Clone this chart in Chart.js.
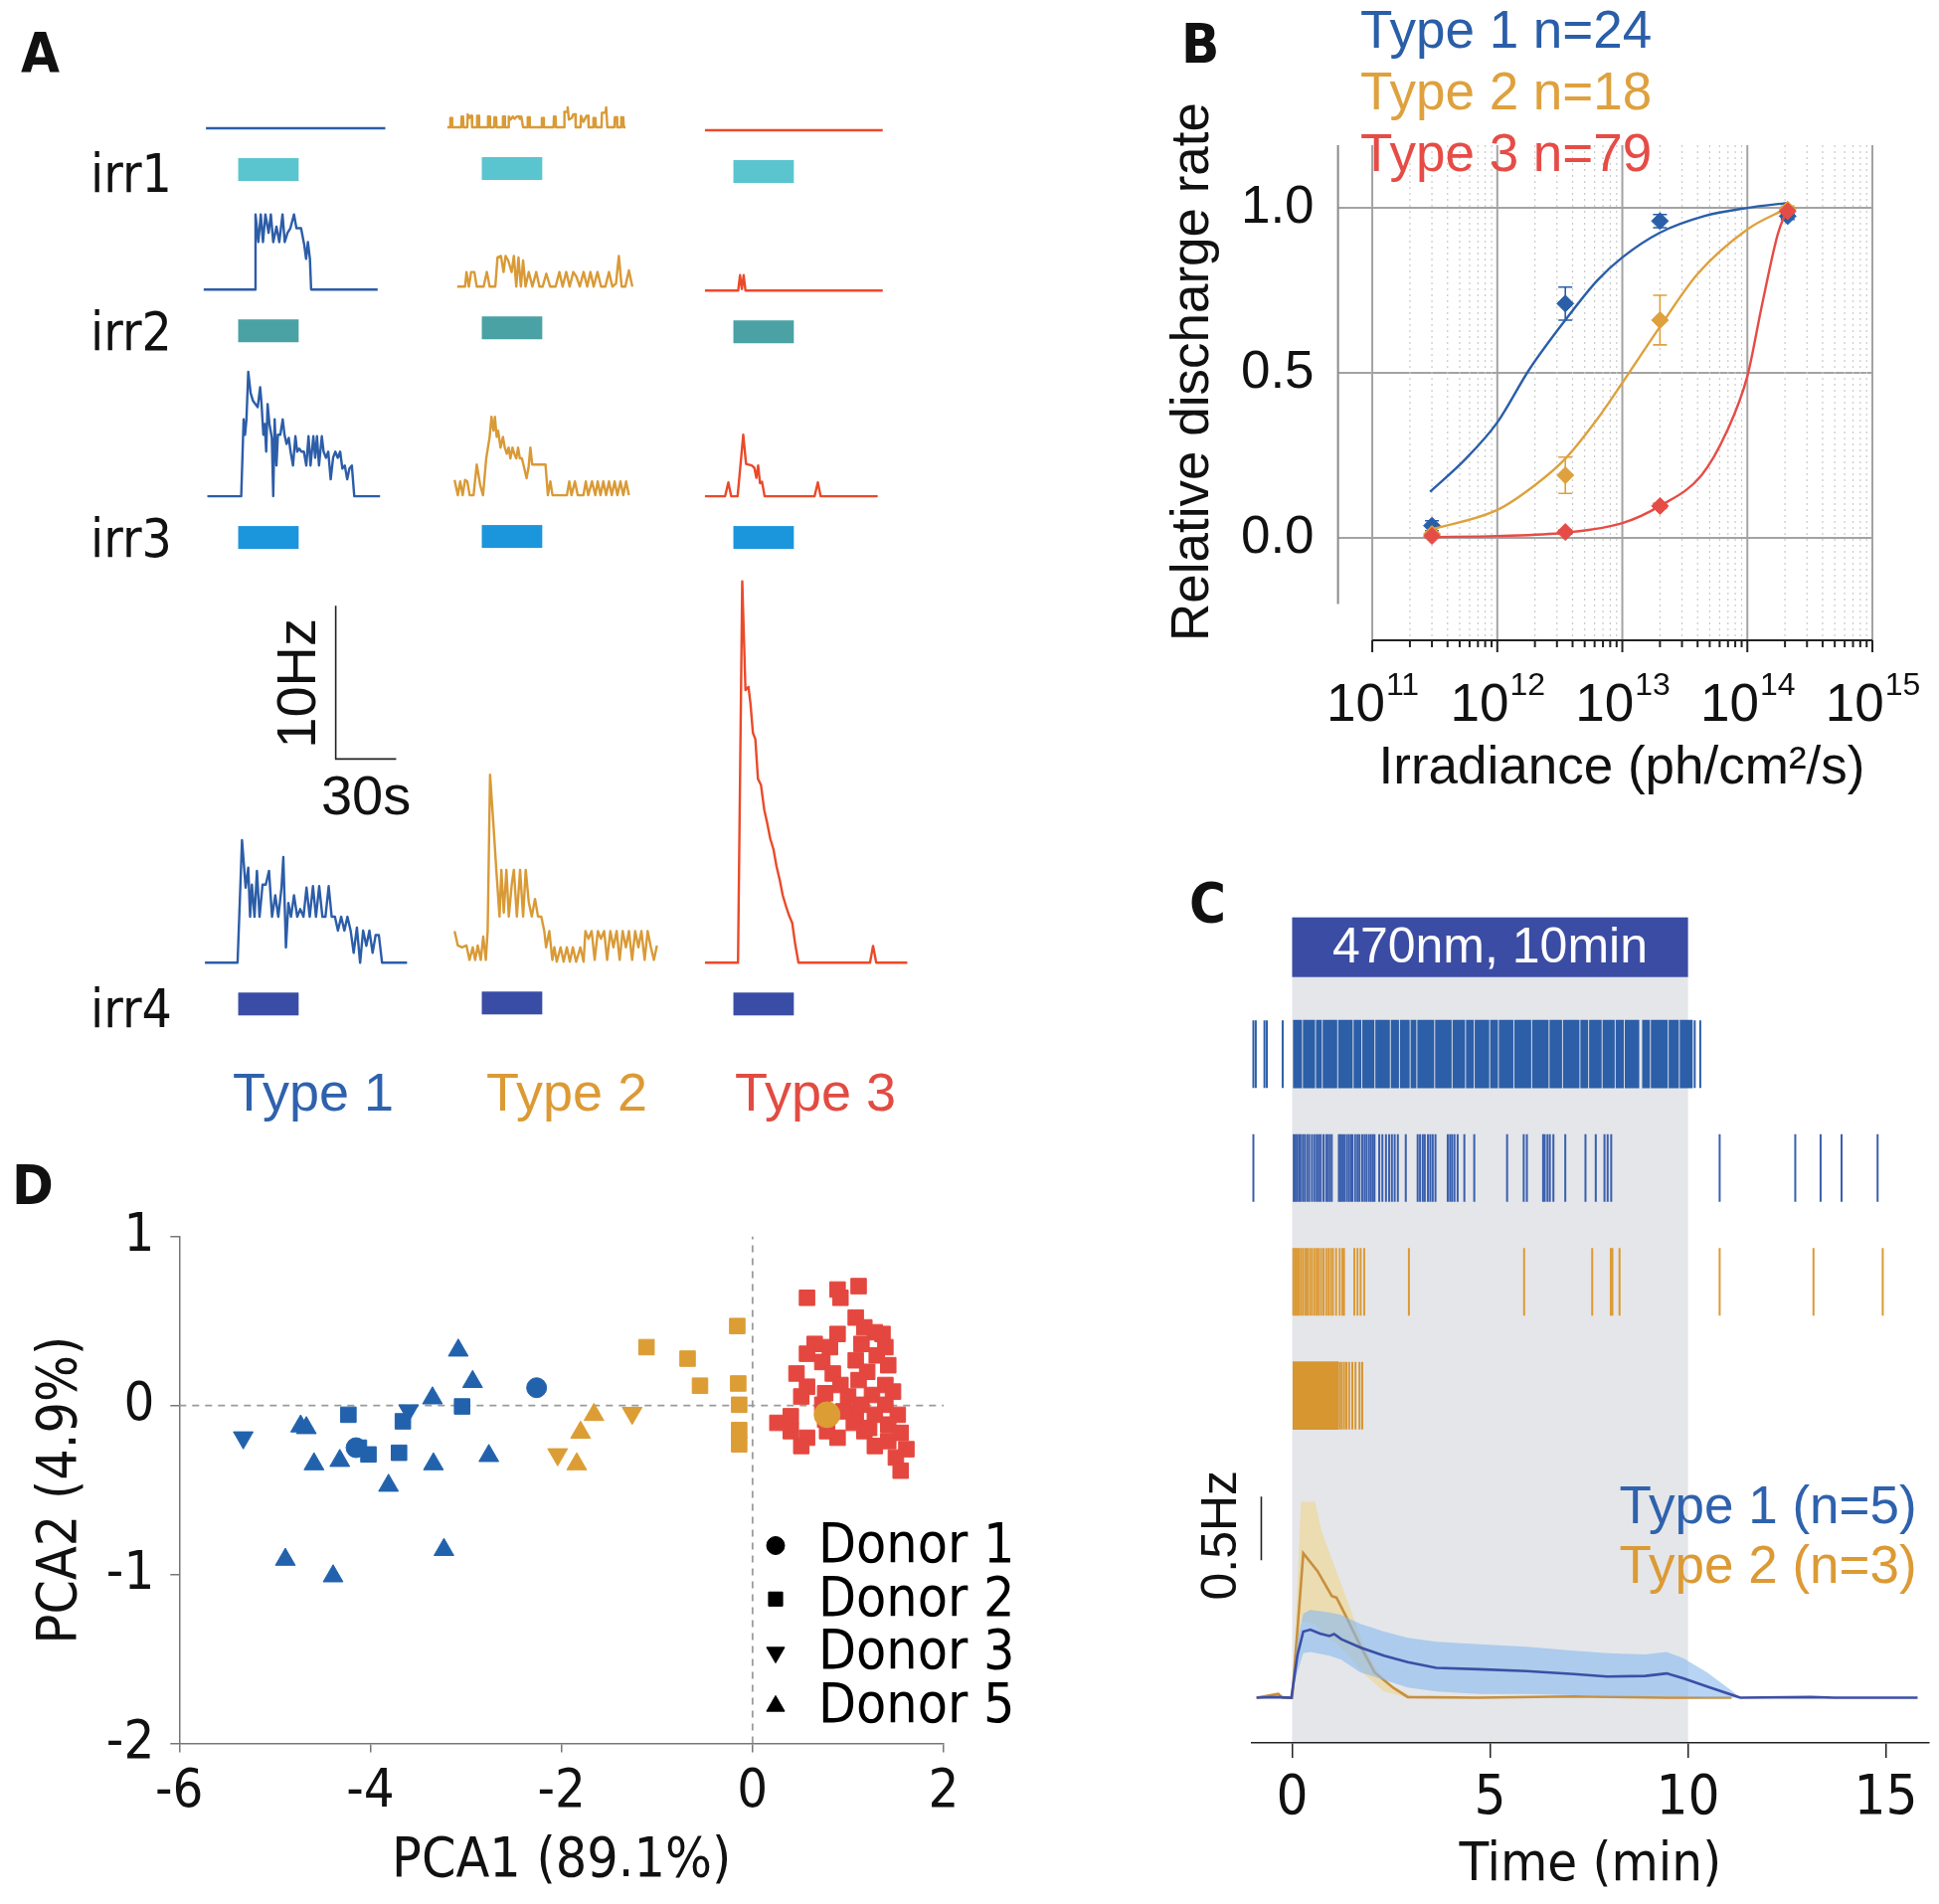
<!DOCTYPE html>
<html>
<head>
<meta charset="utf-8">
<title>Figure</title>
<script src="https://cdn.jsdelivr.net/npm/chart.js@4.4.1/dist/chart.umd.min.js"></script>
<style>
  body { margin: 0; background: #fff; }
  #fig { position: relative; width: 1950px; height: 1915px; overflow: hidden; background: #fff; }
  #fig canvas { position: absolute; }
  .txt { position: absolute; white-space: nowrap; line-height: 1; }
</style>
</head>
<body>
<div id="fig"></div>
<script>
// ---------- Panel A: firing rate traces [time (s) from light onset, rate (Hz)] ----------
const irr1Type1 = [[-16,0],[73,0]];
const irr1Type2 = [[-17.1,0],[-15.8,0],[-15.6,0.6],[-14.9,0.6],[-14.7,0],[-10.2,0],[-10.0,0.7],[-9.3,0.7],[-9.1,0],[-7.2,0],[-7.0,0.85],[-6.3,0.6],[-5.6,0.75],[-5.0,0.75],[-4.8,0],[-2.5,0],[-2.3,0.75],[-1.5,0.75],[-1.3,0],[2.9,0],[3.1,0.7],[3.9,0.7],[4.1,0],[6.1,0],[6.3,0.65],[7.1,0.65],[7.3,0],[10.3,0],[10.5,0.7],[11.3,0.7],[11.5,0],[13.2,0],[13.4,0.7],[14.3,0.5],[15.4,0.7],[16.3,0.55],[17.3,0.7],[18.6,0.7],[18.8,0.55],[19.6,0.7],[20.5,0],[22.6,0],[22.8,0.65],[23.6,0.65],[23.8,0],[29.6,0],[29.8,0.6],[30.6,0.6],[30.8,0],[35.6,0],[35.8,0.7],[36.6,0.7],[36.8,0],[40.8,0],[41.0,1.0],[42.3,1.0],[42.6,1.3],[43.2,0.5],[44.6,0.6],[45.4,0.85],[46.4,0.85],[46.6,0],[49.0,0],[49.2,0.75],[50.4,0.35],[52.0,0.75],[52.8,0.75],[53.0,0],[55.2,0],[55.4,0.6],[56.4,0.6],[56.6,0],[59.4,0],[59.6,0.95],[61.4,0.95],[61.7,1.3],[62.3,0],[65.8,0],[66.0,0.65],[67.0,0.65],[67.2,0],[69.0,0],[69.2,0.65],[70.2,0.65],[70.4,0],[71.3,0]];
const irr1Type3 = [[-14.1,0],[74.1,0]];
const irr2Type1 = [[-17.1,0],[8.3,0],[8.6,4.9],[10,3.1],[11.2,4.9],[12.3,3.1],[13.5,4.9],[15.1,3.7],[16.2,4.9],[17.4,3.1],[19,4.1],[20.4,3.1],[22,4.9],[23.1,3.1],[24.5,3.7],[25.9,4.0],[27.7,4.9],[28.9,4.0],[31.2,4.0],[32.8,2.9],[33.7,2.0],[34.6,3.1],[35.6,2.0],[36.2,0],[69.2,0]];
const irr2Type2 = [[-12.2,0],[-8.3,0],[-7.6,0.95],[-6.4,0],[-5.3,0.95],[-3.7,0.95],[-2.5,0],[0.9,0],[2.5,0.95],[3.9,0],[6.7,0],[7.8,1.9],[9.5,2.0],[10.8,0.95],[11.8,2.0],[13.1,1.7],[14.8,0.95],[15.9,2.0],[17.1,0],[18.2,1.9],[19.4,0],[20.5,1.7],[21.7,0],[23.3,0.95],[25.1,0],[27.0,0.95],[28.6,0],[30.2,0],[32.0,0.84],[33.9,0],[36.6,0],[38.5,0.95],[40.1,0],[41.9,0.95],[43.6,0],[45.4,0.95],[47.0,0.63],[48.6,0],[50.5,0.95],[52.3,0],[53.9,0.95],[55.5,0],[57.4,0.95],[59.2,0],[61.3,0],[63.1,0.95],[64.8,0],[66.6,0.2],[68.0,2.0],[69.4,0],[71.2,0],[73.0,1.05],[74.7,0]];
const irr2Type3 = [[-14.1,0],[2.4,0],[3.3,1.0],[4.2,0.1],[5.1,1.0],[6.0,0],[74.1,0]];
const irr3Type1 = [[-15.3,0],[1.5,0],[2.7,5.0],[3.4,4.0],[4.1,5.0],[5.0,8.1],[6.2,6.7],[7.4,6.2],[8.5,6.0],[9.7,5.8],[10.9,7.1],[11.6,6.0],[12.5,4.0],[13.2,4.7],[13.9,2.9],[14.6,6.0],[15.5,4.7],[16.7,3.8],[17.4,0],[18.1,5.0],[19.0,2.0],[19.7,4.0],[20.9,4.0],[22.1,5.0],[23.0,4.0],[24.0,3.4],[25.1,3.8],[26.0,2.9],[27.2,2.0],[28.4,3.9],[29.3,2.9],[30.3,3.1],[31.4,2.9],[32.6,2.9],[33.8,2.0],[34.9,3.9],[35.9,2.0],[37.3,3.9],[38.2,2.5],[39.1,3.9],[40.1,2.0],[41.5,3.9],[42.4,2.9],[43.6,2.5],[44.7,2.9],[45.9,1.1],[47.1,2.5],[48.2,2.9],[49.4,2.5],[50.6,2.9],[51.7,1.8],[52.9,2.0],[54.1,1.1],[55.2,1.8],[56.4,2.0],[57.6,0],[70.4,0]];
const irr3Type2 = [[-13.5,1.0],[-11.9,0],[-10.7,0.9],[-9.5,0],[-8.3,1.0],[-7.2,0.9],[-6.0,0],[-4.1,0],[-2.5,2.0],[-0.8,0.67],[0.6,0],[2.2,2.4],[3.9,3.8],[4.8,5.1],[5.8,4.2],[6.5,5.1],[7.4,3.8],[8.1,4.2],[9.3,3.1],[10.5,3.8],[11.4,3.1],[12.4,2.7],[13.3,3.1],[14.2,2.4],[15.2,3.1],[16.1,2.7],[17.1,2.4],[18.0,3.1],[18.9,2.4],[19.9,2.4],[21.0,1.8],[22.2,1.1],[23.2,1.8],[24.1,3.1],[25.0,2.0],[31.6,2.0],[32.8,0],[34.0,0.9],[35.1,0],[42.2,0],[43.4,0.9],[44.5,0],[46.2,0.9],[47.6,0],[50.4,0],[51.6,0.9],[52.8,0],[54.7,0.9],[56.3,0],[57.5,0.9],[58.9,0],[60.3,0.9],[61.7,0],[63.1,0.9],[64.5,0],[65.9,0.9],[67.3,0],[68.8,0.9],[70.2,0],[71.6,0.9],[73.0,0]];
const irr3Type3 = [[-14.1,0],[-4.1,0],[-2.5,0.9],[-1.1,0],[2.1,0],[4.9,4.0],[6.3,2.1],[9.1,2.0],[10.4,1.85],[11.4,1.2],[12.3,2.0],[13.2,0.85],[14.2,0.95],[15.5,0],[40.3,0],[41.9,0.9],[43.3,0],[71.6,0]];
const irr4Type1 = [[-16.5,0],[-0.3,0],[1.9,8.0],[3.7,4.9],[5.0,6.2],[5.9,3.0],[6.8,5.1],[8.1,3.0],[9.3,6.0],[10.6,3.0],[12.1,5.1],[13.7,5.1],[15.3,6.0],[16.8,3.0],[18.4,4.4],[19.9,3.0],[21.5,4.9],[22.4,6.9],[23.7,1.0],[24.9,3.9],[26.2,3.0],[27.7,4.4],[29.3,3.0],[30.8,3.5],[32.4,3.0],[33.9,4.9],[35.5,3.0],[37.1,5.0],[38.6,3.0],[40.2,5.0],[41.8,3.0],[43.3,3.0],[44.9,5.0],[46.4,3.0],[48.0,3.0],[49.5,2.1],[51.1,3.0],[52.7,2.1],[54.2,3.0],[55.8,2.1],[57.3,0.65],[58.9,2.3],[60.5,0],[62.0,2.1],[63.6,1.1],[65.1,2.1],[66.7,0.65],[68.2,1.8],[69.8,1.8],[71.4,0],[83.8,0]];
const irr4Type2 = [[-13.5,2.0],[-11.9,1.06],[-9.8,0.94],[-7.6,1.06],[-6.1,0.12],[-4.5,0.94],[-3.3,0.12],[-2.0,1.06],[-0.5,0.12],[0.7,1.65],[2.0,0.12],[2.9,2.0],[4.1,12.2],[5.7,9.1],[7.2,6.0],[8.8,2.95],[9.7,6.0],[10.9,3.2],[12.2,6.0],[13.4,2.95],[14.9,5.1],[15.9,6.0],[17.4,2.95],[19.0,6.0],[20.5,2.95],[21.8,6.0],[23.3,3.9],[24.8,2.95],[26.4,4.1],[27.9,2.95],[29.5,2.95],[31.0,2.0],[31.9,0.94],[33.5,2.0],[35.0,0.12],[36.0,0.94],[37.2,0],[39.1,0.94],[40.6,0],[42.2,0.94],[43.7,0],[45.2,0.94],[46.8,0],[48.9,0.94],[50.5,0],[51.4,2.0],[52.9,1.5],[54.5,2.0],[56.0,0.12],[57.6,2.0],[59.1,1.5],[60.7,2.0],[62.2,0.12],[63.8,2.0],[65.3,0.94],[66.9,2.0],[68.4,0.12],[69.9,2.0],[71.5,0.94],[73.0,2.0],[74.6,0.12],[76.1,2.0],[77.7,0.94],[79.2,2.0],[80.8,0.12],[82.3,2.0],[83.9,0.94],[85.4,0.12],[86.9,1.06]];
const irr4Type3 = [[-14.1,0],[2.3,0],[4.4,24.9],[6.0,17.8],[7.5,18.0],[8.5,16.9],[9.7,15.0],[10.9,14.6],[12.2,12.0],[13.7,11.6],[15.3,10.0],[16.8,9.1],[18.3,8.1],[19.9,7.4],[21.4,6.3],[23.0,5.4],[24.5,4.4],[26.1,3.7],[27.6,3.1],[29.2,2.6],[30.7,1.2],[32.3,0],[67.8,0],[69.3,1.1],[70.9,0],[86.3,0]];
const stimOn = 0, stimOff = 30;          // s
const irrLabels = ['irr1', 'irr2', 'irr3', 'irr4'];
const typeLabels = ['Type 1', 'Type 2', 'Type 3'];

// ---------- Panel B: relative discharge rate vs irradiance ----------
const irradiance = [3e11, 3.5e12, 2e13, 2.1e14];
const type1Rate = [0.037, 0.71, 0.96, 0.975];
const type1Err  = [0.015, 0.05, 0.02, 0.01];
const type2Rate = [0.012, 0.19, 0.66, 0.995];
const type2Err  = [0.008, 0.055, 0.075, 0.01];
const type3Rate = [0.006, 0.018, 0.097, 0.99];
const type3Err  = [0.004, 0.006, 0.008, 0.01];
const type1Fit = [[2.9e11,0.14],[5.6e11,0.24],[1e12,0.35],[1.8e12,0.51],[3.5e12,0.66],[6.3e12,0.78],[1e13,0.85],[2e13,0.925],[4.5e13,0.975],[1e14,1.0],[2.1e14,1.015]];
const type2Fit = [[2.9e11,0.025],[1e12,0.085],[2e12,0.16],[3.5e12,0.24],[6.3e12,0.36],[1e13,0.47],[2e13,0.64],[4e13,0.80],[1e14,0.935],[2.1e14,1.0]];
const type3Fit = [[2.9e11,0.003],[1e12,0.006],[3.5e12,0.016],[1e13,0.045],[2e13,0.097],[4.3e13,0.19],[6.8e13,0.32],[1e14,0.49],[1.3e14,0.70],[1.75e14,0.92],[2.1e14,1.0]];
const nCells = [24, 18, 79];

// ---------- Panel C: raster (min) and mean rate (Hz) ----------
const row1Bursts = [[0.03,0.24],[0.28,0.57],[0.61,0.74],[0.78,1.13],[1.17,1.52],[1.56,1.74],[1.78,2.07],[2.11,2.46],[2.50,2.69],[2.73,2.96],[3.00,3.13],[3.17,3.58],[3.62,4.02],[4.06,4.36],[4.40,4.58],[4.62,4.97],[5.01,5.19],[5.23,5.58],[5.62,6.03],[6.07,6.47],[6.51,6.81],[6.85,7.25],[7.29,7.47],[7.51,7.81],[7.85,8.14],[8.18,8.37],[8.41,8.76],[8.85,9.03],[9.07,9.48],[9.52,9.76],[9.80,10.11]];
const row1Spikes = [-0.98,-0.92,-0.70,-0.64,-0.24,10.17,10.31];
const row2Spikes = [-0.98,0.04,0.08,0.12,0.17,0.21,0.27,0.32,0.38,0.43,0.50,0.56,0.62,0.67,0.72,0.79,0.86,0.90,0.95,1.00,1.18,1.22,1.27,1.32,1.38,1.43,1.48,1.52,1.59,1.65,1.70,1.77,1.83,1.88,1.94,1.99,2.04,2.08,2.20,2.28,2.37,2.45,2.52,2.59,2.67,2.87,3.17,3.23,3.30,3.35,3.43,3.49,3.55,3.62,3.93,3.99,4.04,4.10,4.18,4.35,4.60,5.43,5.85,5.93,6.34,6.38,6.45,6.51,6.60,6.90,7.41,7.67,7.89,7.97,8.06,10.80,12.71,13.35,13.88,14.79];
const row3Spikes = [0.03,0.07,0.10,0.14,0.18,0.23,0.28,0.34,0.39,0.45,0.50,0.56,0.62,0.67,0.73,0.79,0.86,0.92,0.98,1.03,1.11,1.20,1.27,1.31,1.57,1.65,1.73,1.82,2.95,5.86,7.58,8.05,8.09,8.27,10.80,13.17,14.92];
const row4Bursts = [[0.02,1.16]];
const row4Spikes = [1.20,1.25,1.31,1.37,1.44,1.52,1.60,1.70,1.77];
const lightOn = 0, lightOff = 10;        // min
const type1Mean = [[-0.9,0],[-0.4,0.005],[-0.02,0],[0.13,0.33],[0.28,0.52],[0.46,0.535],[0.70,0.505],[0.94,0.485],[1.06,0.50],[1.24,0.46],[1.72,0.395],[2.32,0.33],[2.92,0.28],[3.64,0.235],[4.72,0.224],[5.92,0.209],[7.12,0.186],[7.96,0.166],[8.92,0.171],[9.46,0.191],[9.88,0.153],[10.48,0.089],[11.08,0.026],[11.32,0],[13.1,0.005],[13.7,0],[15.8,0]];
const type1Band = [[-0.9,0,0],[-0.02,0,0],[0.13,0.2,0.45],[0.28,0.35,0.66],[0.46,0.36,0.69],[0.94,0.33,0.67],[1.24,0.30,0.65],[1.72,0.20,0.58],[2.32,0.14,0.52],[2.92,0.08,0.47],[3.64,0.05,0.44],[4.72,0.03,0.42],[5.92,0.03,0.40],[7.12,0.02,0.37],[7.96,0.01,0.35],[8.92,0.01,0.34],[9.46,0.01,0.36],[9.88,0.01,0.31],[10.48,0,0.2],[11.08,0,0.06],[11.32,0,0]];
const type2Mean = [[-0.9,0],[-0.35,0.03],[-0.25,0],[0.0,0],[0.15,0.6],[0.28,1.135],[0.64,0.995],[1.0,0.80],[1.12,0.786],[1.36,0.64],[1.72,0.41],[2.08,0.20],[2.56,0.077],[2.92,0.005],[4.7,0],[7.1,0.01],[9.5,0],[11.1,0]];
const type2Band = [[0.0,0,0],[0.15,0.35,1.0],[0.22,0.6,1.54],[0.58,0.58,1.54],[0.75,0.5,1.3],[1.12,0.43,0.99],[1.48,0.31,0.69],[1.84,0.18,0.38],[2.32,0.05,0.13],[2.92,0,0.03],[3.2,0,0]];
const cLegend = ['Type 1 (n=5)', 'Type 2 (n=3)'];

// ---------- Panel D: PCA scores [PCA1, PCA2] ----------
const type1Donor1 = [[-2.26,0.105],[-4.15,-0.25]];
const type1Donor2 = [[-4.23,-0.055],[-4.02,-0.29],[-3.70,-0.28],[-3.66,-0.094],[-3.04,-0.006],[-4.12,-0.25]];
const type1Donor3 = [[-5.33,-0.19],[-3.60,-0.03]];
const type1Donor5 = [[-3.08,0.326],[-2.93,0.14],[-3.35,0.043],[-4.73,-0.123],[-4.67,-0.133],[-4.59,-0.347],[-4.32,-0.327],[-3.81,-0.474],[-3.34,-0.347],[-2.76,-0.298],[-4.89,-0.912],[-4.39,-1.01],[-3.23,-0.854]];
const type2Donor1 = [[0.78,-0.055]];
const type2Donor2 = [[-0.16,0.47],[-1.11,0.345],[-0.68,0.277],[-0.55,0.117],[-0.15,0.13],[-0.14,0.004],[-0.14,-0.146],[-0.14,-0.23]];
const type2Donor3 = [[-1.26,-0.045],[-2.04,-0.29]];
const type2Donor5 = [[-1.66,-0.055],[-1.80,-0.16],[-1.84,-0.347]];
const type3Donor2 = [[0.57,0.637],[0.89,0.686],[1.11,0.706],[0.92,0.637],[1.08,0.52],[1.17,0.462],[1.36,0.423],[1.28,0.433],[0.65,0.364],[0.89,0.423],[0.81,0.345],[1.14,0.364],[1.39,0.345],[0.57,0.306],[0.73,0.257],[1.08,0.267],[1.30,0.296],[1.42,0.238],[0.46,0.189],[0.84,0.189],[1.20,0.199],[0.57,0.111],[0.92,0.121],[1.11,0.150],[1.39,0.121],[0.51,0.053],[1.00,0.053],[1.25,0.062],[1.47,0.082],[0.73,0.004],[1.14,0.004],[1.39,0.004],[1.08,-0.045],[1.28,-0.055],[1.52,-0.055],[0.26,-0.103],[0.40,-0.152],[0.57,-0.191],[0.51,-0.240],[0.89,-0.191],[1.06,-0.103],[1.22,-0.133],[1.42,-0.113],[1.55,-0.162],[1.28,-0.240],[1.61,-0.259],[1.50,-0.308],[1.55,-0.386],[0.76,-0.084],[0.95,-0.035],[0.78,-0.152],[1.17,-0.152],[0.40,-0.064],[0.76,0.072],[1.42,-0.211]];
const donorLabels = ['Donor 1', 'Donor 2', 'Donor 3', 'Donor 5'];

// ---------- styles ----------
const NARROW = "'Liberation Sans Narrow', 'Arial Narrow', 'DejaVu Sans Condensed', sans-serif";
const ARIAL = "'Liberation Sans', Arial, Helvetica, sans-serif";
const typeColors = ['#2c5da8', '#d99a36', '#ea4a2a'];
const typeTextColors = ['#2f62ad', '#dc9a35', '#e24b42'];
const bColors = ['#2a5ea8', '#dea13e', '#e64c46'];
const irrColors = ['#5bc5cf', '#4aa2a4', '#1b96dc', '#3a4da6'];

Chart.defaults.animation = false;
Chart.defaults.responsive = false;
Chart.defaults.events = [];
Chart.defaults.layout.autoPadding = false;
Chart.defaults.plugins.legend.display = false;
Chart.defaults.plugins.tooltip.enabled = false;

const fig = document.getElementById('fig');
const pairs = arr => arr.map(p => ({x: p[0], y: p[1]}));
const fixedTicks = vals => scale => { scale.ticks = vals.map(v => ({value: v})); };

function makeCanvas(left, top, w, h) {
  const c = document.createElement('canvas');
  c.width = Math.round(w);
  c.height = Math.round(h);
  c.style.left = left + 'px';
  c.style.top = top + 'px';
  fig.appendChild(c);
  return c;
}

function addText(str, x, cy, size, family, color, opt) {
  opt = opt || {};
  const d = document.createElement('div');
  d.className = 'txt';
  d.textContent = str;
  d.style.fontSize = size + 'px';
  d.style.fontFamily = family;
  d.style.color = color;
  if (opt.bold) d.style.fontWeight = 'bold';
  d.style.top = (cy - 0.49 * size) + 'px';
  d.style.left = x + 'px';
  if (opt.center) d.style.transform = 'translateX(-50%)';
  fig.appendChild(d);
}

// ================= Panel A =================
const PX_PER_S = 2.031, PX_PER_HZ = 15.42;
const colOnsetX = [240, 485, 737.5];
const rowBaseY = [[129.3,128.1,130.6],[291,288.5,292.2],[498.7,497.4,498.7],[968.8,967.5,968.8]];
const rowTopHz = [2.2, 6.5, 9, 26.5];
const T_MIN = -20, T_MAX = 92, HZ_MIN = -4.2;

const stimBar = {
  id: 'stimBar',
  afterDatasetsDraw(chart, args, opts) {
    const {ctx, scales: {x, y}} = chart;
    const xa = x.getPixelForValue(stimOn), xb = x.getPixelForValue(stimOff);
    const yb = y.getPixelForValue(0) + 30;
    ctx.save();
    ctx.fillStyle = opts.color;
    ctx.fillRect(xa, yb, xb - xa, 23);
    ctx.restore();
  }
};

// 10 Hz / 30 s scale bar
const scaleBarA = {
  id: 'scaleBarA',
  afterDatasetsDraw(chart, args, o) {
    const {ctx, scales: {x, y}} = chart;
    const cx = x.getPixelForValue(o.t), cy = y.getPixelForValue(o.hz);
    const ty = y.getPixelForValue(o.hz + 10), rx = x.getPixelForValue(o.t + 30);
    ctx.save();
    ctx.strokeStyle = '#222';
    ctx.lineWidth = 1.6;
    ctx.beginPath();
    ctx.moveTo(cx, ty); ctx.lineTo(cx, cy); ctx.lineTo(rx, cy);
    ctx.stroke();
    ctx.fillStyle = '#111';
    ctx.font = '56px ' + ARIAL;
    ctx.textAlign = 'center';
    ctx.textBaseline = 'middle';
    ctx.fillText('30s', (cx + rx) / 2, cy + 40);
    ctx.translate(cx - 36, (cy + ty) / 2 + 1);
    ctx.rotate(-Math.PI / 2);
    ctx.fillText('10Hz', 0, 0);
    ctx.restore();
  }
};

function traceChart(r, c, trace) {
  const x0 = colOnsetX[c], y0 = rowBaseY[r][c], top = rowTopHz[r];
  const canvas = makeCanvas(x0 + T_MIN * PX_PER_S, y0 - top * PX_PER_HZ,
    (T_MAX - T_MIN) * PX_PER_S, (top - HZ_MIN) * PX_PER_HZ);
  const withBar = r === 3 && c === 0;
  new Chart(canvas, {
    type: 'line',
    data: { datasets: [{ data: pairs(trace), borderColor: typeColors[c], borderWidth: 2.4,
      borderJoinStyle: 'round', pointRadius: 0, tension: 0, clip: false }] },
    options: {
      layout: { padding: 0 },
      scales: {
        x: { type: 'linear', display: false, min: T_MIN, max: T_MAX },
        y: { type: 'linear', display: false, min: HZ_MIN, max: top }
      },
      plugins: { stimBar: { color: irrColors[r] }, scaleBarA: { t: 48.4, hz: 13.3 } }
    },
    plugins: withBar ? [stimBar, scaleBarA] : [stimBar]
  });
}

[[irr1Type1, irr1Type2, irr1Type3],
 [irr2Type1, irr2Type2, irr2Type3],
 [irr3Type1, irr3Type2, irr3Type3],
 [irr4Type1, irr4Type2, irr4Type3]].forEach((row, r) => row.forEach((tr, c) => traceChart(r, c, tr)));

addText('A', 21, 52, 56, NARROW, '#111', {bold: true});
[174, 333, 541, 1013.5].forEach((cy, i) => addText(irrLabels[i], 91, cy, 53, NARROW, '#111'));
[315, 570, 820].forEach((cx, i) => addText(typeLabels[i], cx, 1097, 54, ARIAL, typeTextColors[i], {center: true}));

// ================= Panel B =================
const bAxes = {
  id: 'bAxes',
  beforeDatasetsDraw(chart) {
    const {ctx, chartArea: {top, bottom}, scales: {x, y}} = chart;
    ctx.save();
    // minor (dotted) and major grid
    ctx.strokeStyle = '#c9c9c9'; ctx.lineWidth = 1.2; ctx.setLineDash([2, 4]);
    for (let d = 11; d <= 14; d++) for (let m = 2; m <= 9; m++) {
      const px = x.getPixelForValue(m * Math.pow(10, d));
      ctx.beginPath(); ctx.moveTo(px, top); ctx.lineTo(px, bottom); ctx.stroke();
    }
    ctx.setLineDash([]); ctx.strokeStyle = '#a3a3a3'; ctx.lineWidth = 2;
    for (let d = 11; d <= 15; d++) {
      const px = x.getPixelForValue(Math.pow(10, d));
      ctx.beginPath(); ctx.moveTo(px, top); ctx.lineTo(px, bottom); ctx.stroke();
    }
    // error bars
    [[type1Rate, type1Err], [type2Rate, type2Err], [type3Rate, type3Err]].forEach(([rate, err], k) => {
      ctx.strokeStyle = bColors[k]; ctx.lineWidth = 1.6;
      irradiance.forEach((v, i) => {
        const px = x.getPixelForValue(v);
        const y1 = y.getPixelForValue(rate[i] - err[i]), y2 = y.getPixelForValue(rate[i] + err[i]);
        ctx.beginPath();
        ctx.moveTo(px, y1); ctx.lineTo(px, y2);
        ctx.moveTo(px - 7, y1); ctx.lineTo(px + 7, y1);
        ctx.moveTo(px - 7, y2); ctx.lineTo(px + 7, y2);
        ctx.stroke();
      });
    });
    ctx.restore();
  },
  afterDraw(chart) {
    const {ctx, chartArea: {left, top, bottom}, scales: {x, y}} = chart;
    ctx.save();
    // axis lines
    ctx.strokeStyle = '#8a8a8a'; ctx.lineWidth = 2;
    ctx.beginPath(); ctx.moveTo(left, top); ctx.lineTo(left, y.getPixelForValue(-0.2)); ctx.stroke();
    ctx.strokeStyle = '#222';
    ctx.beginPath(); ctx.moveTo(x.getPixelForValue(1e11), bottom); ctx.lineTo(x.getPixelForValue(1e15), bottom); ctx.stroke();
    for (let d = 11; d <= 15; d++) {
      const px = x.getPixelForValue(Math.pow(10, d));
      ctx.beginPath(); ctx.moveTo(px, bottom); ctx.lineTo(px, bottom + 12); ctx.stroke();
      if (d < 15) for (let m = 2; m <= 9; m++) {
        const pm = x.getPixelForValue(m * Math.pow(10, d));
        ctx.beginPath(); ctx.moveTo(pm, bottom); ctx.lineTo(pm, bottom + 7); ctx.stroke();
      }
      // "10" with superscript exponent
      ctx.fillStyle = '#111'; ctx.textBaseline = 'alphabetic'; ctx.textAlign = 'left';
      ctx.font = '53px ' + ARIAL; const w10 = ctx.measureText('10').width;
      ctx.font = '32px ' + ARIAL; const we = ctx.measureText(String(d)).width;
      const x0 = px - (w10 + we) / 2;
      ctx.font = '53px ' + ARIAL; ctx.fillText('10', x0, 725);
      ctx.font = '32px ' + ARIAL; ctx.fillText(String(d), x0 + w10 + 1, 699);
    }
    // titles
    ctx.fillStyle = '#111'; ctx.font = '53px ' + ARIAL; ctx.textAlign = 'center'; ctx.textBaseline = 'middle';
    ctx.fillText('Irradiance (ph/cm\u00b2/s)', 481, 773);
    ctx.save(); ctx.translate(50, 374); ctx.rotate(-Math.PI / 2); ctx.fillText('Relative discharge rate', 0, 0); ctx.restore();
    // legend
    ctx.textAlign = 'left';
    typeLabels.forEach((t, k) => {
      ctx.fillStyle = bColors[k];
      ctx.fillText(t + ' n=' + nCells[k], 218, 33 + k * 62.2);
    });
    ctx.restore();
  }
};

const bCanvas = makeCanvas(1150, 0, 800, 820);
new Chart(bCanvas, {
  type: 'scatter',
  data: {
    datasets: [
      ...[type1Fit, type2Fit, type3Fit].map((f, k) => ({ type: 'line', data: pairs(f), borderColor: bColors[k],
        borderWidth: 2.4, pointRadius: 0, cubicInterpolationMode: 'monotone', order: 2 })),
      ...[type1Rate, type2Rate, type3Rate].map((rate, k) => ({ type: 'scatter',
        data: irradiance.map((v, i) => ({x: v, y: rate[i]})), pointStyle: 'rectRot', pointRadius: 8.5,
        backgroundColor: bColors[k], borderColor: bColors[k], borderWidth: 1, order: 2 - k }))
    ]
  },
  options: {
    layout: { padding: { left: 0, right: 67, top: 146, bottom: 176 } },
    scales: {
      x: { type: 'logarithmic', display: false, min: 5.32e10, max: 1e15 },
      y: { type: 'linear', min: -0.31, max: 1.19, afterBuildTicks: fixedTicks([0, 0.5, 1]),
        afterFit: s => { s.width = 195.6; },
        ticks: { font: { family: ARIAL, size: 53 }, color: '#111', padding: 24, callback: v => v.toFixed(1) },
        grid: { drawTicks: false, color: '#a3a3a3', lineWidth: 2 },
        border: { display: false } }
    }
  },
  plugins: [bAxes]
});
addText('B', 1188, 43, 56, NARROW, '#111', {bold: true});

// ================= Panel C =================
const cDecor = {
  id: 'cDecor',
  beforeDraw(chart) {
    const {ctx, chartArea: {top, bottom}, scales: {x}} = chart;
    const xa = x.getPixelForValue(lightOn), xb = x.getPixelForValue(lightOff);
    ctx.save();
    ctx.fillStyle = '#e4e6e9';
    ctx.fillRect(xa, top, xb - xa, bottom - top);
    ctx.fillStyle = '#3b4ca4';
    ctx.fillRect(xa, top, xb - xa, 60);
    ctx.fillStyle = '#fff'; ctx.font = '50px ' + ARIAL; ctx.textAlign = 'center'; ctx.textBaseline = 'middle';
    ctx.fillText('470nm, 10min', (xa + xb) / 2, top + 32);
    ctx.restore();
  },
  afterDraw(chart) {
    const {ctx, scales: {x, y}} = chart;
    ctx.save();
    // 0.5 Hz scale bar
    const bx = x.getPixelForValue(-0.78), y1 = y.getPixelForValue(1.08), y2 = y.getPixelForValue(1.58);
    ctx.strokeStyle = '#222'; ctx.lineWidth = 1.6;
    ctx.beginPath(); ctx.moveTo(bx, y1); ctx.lineTo(bx, y2); ctx.stroke();
    ctx.fillStyle = '#111'; ctx.font = '50px ' + ARIAL; ctx.textAlign = 'center'; ctx.textBaseline = 'middle';
    ctx.save(); ctx.translate(bx - 39, (y1 + y2) / 2 + 7); ctx.rotate(-Math.PI / 2); ctx.fillText('0.5Hz', 0, 0); ctx.restore();
    // legend
    ctx.font = '53px ' + ARIAL; ctx.textAlign = 'right';
    cLegend.forEach((t, k) => { ctx.fillStyle = typeTextColors[k]; ctx.fillText(t, 747.6, 617 + k * 60); });
    ctx.restore();
  }
};

const spikeSet = (times, row, color) => ({ type: 'scatter', yAxisID: 'yr', data: times.map(t => ({x: t, y: row})),
  pointStyle: 'line', pointRotation: 90, pointRadius: 34, pointBorderWidth: 2,
  borderColor: color, pointBorderColor: color, order: 0 });
const burstSet = (bursts, row, color) => ({ type: 'bar', indexAxis: 'y', yAxisID: 'yr', xAxisID: 'x',
  data: bursts.map(b => ({x: b, y: row})), backgroundColor: color, borderWidth: 0,
  barThickness: 68, grouped: false, order: 0 });
const bandSets = (band, fillColor, order) => [
  { type: 'line', data: band.map(b => ({x: b[0], y: b[2]})), fill: '+1', backgroundColor: fillColor,
    borderColor: 'transparent', borderWidth: 0, pointRadius: 0, order },
  { type: 'line', data: band.map(b => ({x: b[0], y: b[1]})), fill: false,
    borderColor: 'transparent', borderWidth: 0, pointRadius: 0, order }
];

const cCanvas = makeCanvas(1180, 900, 770, 1015);
new Chart(cCanvas, {
  type: 'scatter',
  data: {
    datasets: [
      { type: 'line', data: pairs(type1Mean), borderColor: '#3b4fa6', borderWidth: 2.6, pointRadius: 0, order: 0 },
      ...bandSets(type1Band, 'rgba(138,185,238,0.62)', 1),
      { type: 'line', data: pairs(type2Mean), borderColor: '#c78f3e', borderWidth: 2.6, pointRadius: 0, order: 2 },
      ...bandSets(type2Band, 'rgba(240,214,140,0.6)', 3),
      burstSet(row1Bursts, 1, '#2d5ea8'),
      spikeSet(row1Spikes, 1, '#2d5ea8'),
      spikeSet(row2Spikes, 2, '#3a5fae'),
      spikeSet(row3Spikes, 3, '#dc9a35'),
      burstSet(row4Bursts, 4, '#d89630'),
      spikeSet(row4Spikes, 4, '#d89630')
    ]
  },
  options: {
    layout: { padding: { left: 78.5, right: 10, top: 22.7, bottom: 0 } },
    scales: {
      x: { type: 'linear', min: -1.03, max: 16.09, offset: false, afterBuildTicks: fixedTicks([0, 5, 10, 15]),
        afterFit: s => { s.height = 162; },
        ticks: { font: { family: NARROW, size: 56 }, color: '#111', padding: 8 },
        grid: { display: true, drawOnChartArea: false, drawTicks: true, tickLength: 15, color: '#222', lineWidth: 1.5 },
        border: { display: true, color: '#222', width: 1.5 },
        title: { display: true, text: 'Time (min)', font: { family: NARROW, size: 54 }, color: '#111', padding: { top: 0, bottom: 6 } } },
      y: { type: 'linear', display: false, min: -0.355, max: 6.13 },
      yr: { type: 'linear', display: false, min: -0.2, max: 7.05, reverse: true, offset: false }
    }
  },
  plugins: [cDecor]
});
addText('C', 1196, 907, 56, NARROW, '#111', {bold: true});

// ================= Panel D =================
const donorStyles = [
  { pointStyle: 'circle', rotation: 0, radius: 10 },
  { pointStyle: 'rect', rotation: 0, radius: 11 },
  { pointStyle: 'triangle', rotation: 180, radius: 11.5 },
  { pointStyle: 'triangle', rotation: 0, radius: 11.5 }
];
const scatterSet = (pts, color, donor, order, radius) => ({
  type: 'scatter', data: pairs(pts), pointStyle: donorStyles[donor].pointStyle,
  pointRotation: donorStyles[donor].rotation, pointRadius: radius || donorStyles[donor].radius,
  backgroundColor: color, borderColor: color, borderWidth: 1, order });

const donorLegend = {
  id: 'donorLegend',
  afterDraw(chart) {
    const ctx = chart.ctx;
    ctx.save();
    donorLabels.forEach((lab, i) => {
      const y = 394.5 + i * 53.8, s = donorStyles[i];
      ctx.fillStyle = '#000'; ctx.strokeStyle = '#000';
      Chart.helpers.drawPoint(ctx, { pointStyle: s.pointStyle, radius: s.radius - 1, rotation: s.rotation, borderWidth: 1 }, 780, y);
      ctx.font = '55px ' + NARROW; ctx.textAlign = 'left'; ctx.textBaseline = 'middle';
      ctx.fillText(lab, 823, y + 2);
    });
    ctx.restore();
  }
};

const dCanvas = makeCanvas(0, 1160, 1040, 755);
const dBlue = '#2262ad', dOrange = '#dc9d34', dRed = '#e4473f';
new Chart(dCanvas, {
  type: 'scatter',
  data: {
    datasets: [
      { type: 'line', data: [{x: -6, y: 0}, {x: 2, y: 0}], borderColor: '#9a9a9a', borderWidth: 1.8, borderDash: [7, 6], pointRadius: 0, order: 10 },
      { type: 'line', data: [{x: 0, y: -2}, {x: 0, y: 1}], borderColor: '#9a9a9a', borderWidth: 1.8, borderDash: [7, 6], pointRadius: 0, order: 10 },
      scatterSet(type3Donor2, dRed, 1, 5),
      scatterSet(type2Donor1, dOrange, 0, 1, 13),
      scatterSet(type2Donor2, dOrange, 1, 2),
      scatterSet(type2Donor3, dOrange, 2, 2),
      scatterSet(type2Donor5, dOrange, 3, 2),
      scatterSet(type1Donor1, dBlue, 0, 2),
      scatterSet(type1Donor2, dBlue, 1, 2),
      scatterSet(type1Donor3, dBlue, 2, 2),
      scatterSet(type1Donor5, dBlue, 3, 2)
    ]
  },
  options: {
    layout: { padding: { left: 0, right: 91, top: 83.6, bottom: 0 } },
    scales: {
      x: { type: 'linear', min: -6, max: 2, afterBuildTicks: fixedTicks([-6, -4, -2, 0, 2]),
        afterFit: s => { s.height = 161.5; },
        ticks: { font: { family: NARROW, size: 54 }, color: '#111', padding: 8 },
        grid: { display: true, drawOnChartArea: false, tickLength: 9, color: '#777', lineWidth: 1.5 },
        border: { display: true, color: '#777', width: 1.5 },
        title: { display: true, text: 'PCA1 (89.1%)', font: { family: NARROW, size: 55 }, color: '#111', padding: { top: 0, bottom: 9 } } },
      y: { type: 'linear', min: -2, max: 1, afterBuildTicks: fixedTicks([-2, -1, 0, 1]),
        afterFit: s => { s.width = 180.3; },
        ticks: { font: { family: NARROW, size: 54 }, color: '#111', padding: 16 },
        grid: { display: true, drawOnChartArea: false, tickLength: 9, color: '#777', lineWidth: 1.5 },
        border: { display: true, color: '#777', width: 1.5 },
        title: { display: true, text: 'PCA2 (4.9%)', font: { family: NARROW, size: 55 }, color: '#111', padding: { top: 29, bottom: 0 } } }
    }
  },
  plugins: [donorLegend]
});
addText('D', 12, 1191, 56, NARROW, '#111', {bold: true});
</script>
</body>
</html>
